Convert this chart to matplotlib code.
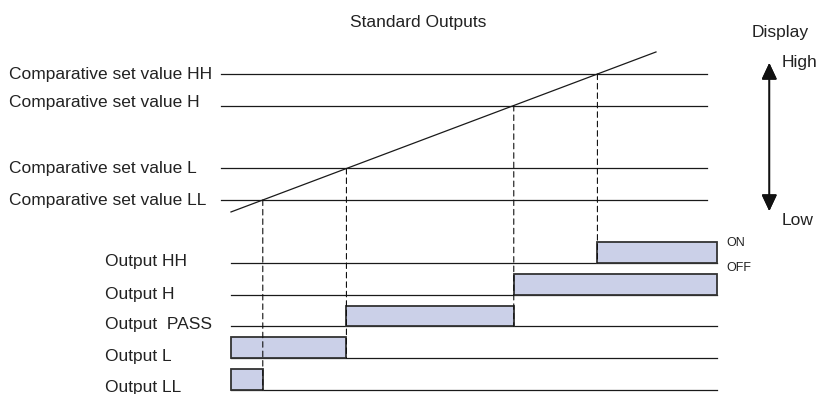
import matplotlib
matplotlib.use("Agg")
import matplotlib.pyplot as plt
from matplotlib.patches import Rectangle, ConnectionPatch

plt.rcParams['font.family'] = ['Liberation Sans', 'DejaVu Sans']

# Display values of the comparative set values
set_names = ['LL', 'L', 'H', 'HH']
set_values = [10, 20, 40, 50]
set_labels = ['Comparative set value LL', 'Comparative set value L',
              'Comparative set value H', 'Comparative set value HH']

# Display value ramps up with time
ramp_t = [0, 100]
ramp_v = [6.2, 57.0]

# Output rows, bottom to top
output_names = ['LL', 'L', 'PASS', 'H', 'HH']
output_labels = ['Output LL', 'Output L', 'Output  PASS', 'Output H', 'Output HH']

# time range of the horizontal reference lines
set_line_span = (-2.4, 112)
out_line_span = (0, 114.4)

W, H = 818, 394
fig = plt.figure(figsize=(W / 100, H / 100), dpi=100)


def fx(x):
    return x / W


def fy(y):
    return 1 - y / H


# two overlapping axes on the whole figure: display values on top, outputs below
ax_top = fig.add_axes([0, 0, 1, 1])
ax_bot = fig.add_axes([0, 0, 1, 1])
for ax in (ax_top, ax_bot):
    ax.set_xlim(-54.35, 138.12)
    ax.axis('off')
    ax.patch.set_alpha(0)
ax_top.set_ylim(-51.6, 73.5)
ax_bot.set_ylim(-0.126, 12.28)

# crossing time of the ramp with each set value
slope = (ramp_v[1] - ramp_v[0]) / (ramp_t[1] - ramp_t[0])
cross = {n: ramp_t[0] + (v - ramp_v[0]) / slope for n, v in zip(set_names, set_values)}

# set value lines and ramp
for v in set_values:
    ax_top.plot(set_line_span, [v, v], color='#1a1a1a', lw=0.9)
ax_top.plot(ramp_t, ramp_v, color='#1a1a1a', lw=0.9)

# output on intervals
t_end = out_line_span[1]
on_periods = {
    'LL': (out_line_span[0], cross['LL']),
    'L': (out_line_span[0], cross['L']),
    'PASS': (cross['L'], cross['H']),
    'H': (cross['H'], t_end),
    'HH': (cross['HH'], t_end),
}
pulse_h = 0.66
for r, name in enumerate(output_names):
    ax_bot.plot(out_line_span, [r, r], color='#1a1a1a', lw=0.9)
    t0, t1 = on_periods[name]
    ax_bot.add_patch(Rectangle((t0, r), t1 - t0, pulse_h, facecolor='#cbd0e8',
                               edgecolor='#333333', lw=1.3, zorder=3))

# dashed drop lines from each crossing to the lowest output that switches
drop_row = {'LL': 0, 'L': 1, 'H': 2, 'HH': 4}
for n, v in zip(set_names, set_values):
    con = ConnectionPatch(xyA=(cross[n], v), coordsA=ax_top.transData,
                          xyB=(cross[n], drop_row[n]), coordsB=ax_bot.transData,
                          color='#111111', lw=0.8, linestyle=(0, (5, 3.5)), zorder=4)
    fig.add_artist(con)

fs = 12.5
# set value labels (baseline pixel positions)
set_label_base = [205, 173, 106.5, 79]
for lab, yb in zip(set_labels, set_label_base):
    fig.text(fx(9), fy(yb), lab, fontsize=fs, color='#222222', va='baseline', ha='left')

out_label_base = [392, 361.5, 329.5, 298.5, 266]
for lab, yb in zip(output_labels, out_label_base):
    fig.text(fx(105), fy(yb), lab, fontsize=fs, color='#222222', va='baseline', ha='left')

fig.text(fx(418.5), fy(26.7), 'Standard Outputs', fontsize=fs, color='#222222',
         va='baseline', ha='center')
fig.text(fx(751.5), fy(37), 'Display', fontsize=fs, color='#222222', va='baseline')
fig.text(fx(781.5), fy(66.7), 'High', fontsize=fs, color='#222222', va='baseline')
fig.text(fx(781.5), fy(225), 'Low', fontsize=fs, color='#222222', va='baseline')
fig.text(fx(726.5), fy(245.7), 'ON', fontsize=9, color='#222222', va='baseline')
fig.text(fx(726.5), fy(270.7), 'OFF', fontsize=9, color='#222222', va='baseline')

fig.add_artist(plt.annotate('', xy=(fx(769.3), fy(63)), xytext=(fx(769.3), fy(211)),
                            xycoords='figure fraction', textcoords='figure fraction',
                            arrowprops=dict(arrowstyle='<|-|>,head_length=10,head_width=4.7',
                                            mutation_scale=1, color='#111111', lw=1.2,
                                            shrinkA=0, shrinkB=0)))

fig.savefig('out.png', dpi=100)
